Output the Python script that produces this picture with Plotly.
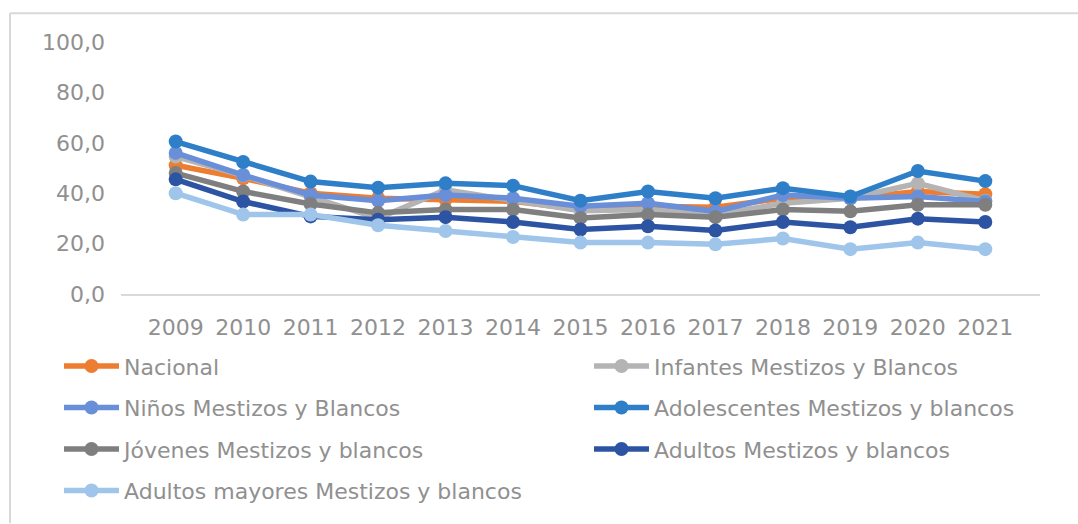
import plotly.graph_objects as go

years = ["2009", "2010", "2011", "2012", "2013", "2014", "2015", "2016", "2017", "2018", "2019", "2020", "2021"]

nacional = [51.1, 45.9, 40.0, 38.0, 37.4, 36.8, 33.5, 34.8, 34.4, 38.0, 38.0, 40.7, 39.6]
infantes = [54.5, 47.0, 38.5, 30.0, 41.3, 37.4, 33.0, 33.5, 31.5, 36.0, 38.0, 43.9, 37.0]
ninos = [56.0, 47.2, 39.3, 37.0, 39.3, 38.0, 34.8, 36.0, 32.8, 39.3, 38.0, 38.7, 36.7]
adolescentes = [60.5, 52.4, 44.6, 42.2, 43.9, 43.0, 37.0, 40.7, 38.0, 42.0, 38.7, 48.8, 44.8]
jovenes = [48.0, 40.7, 35.7, 32.2, 33.5, 33.5, 30.2, 31.5, 30.5, 33.5, 32.8, 35.4, 35.4]
adultos = [45.5, 36.7, 30.8, 29.5, 30.5, 28.6, 25.6, 26.9, 25.2, 28.6, 26.5, 29.9, 28.6]
mayores = [40.0, 31.5, 31.5, 27.3, 25.0, 22.6, 20.4, 20.4, 19.7, 22.0, 17.8, 20.4, 17.8]

series_names = [
    "Nacional",
    "Infantes Mestizos y Blancos",
    "Niños Mestizos y Blancos",
    "Adolescentes Mestizos y blancos",
    "Jóvenes Mestizos y blancos",
    "Adultos Mestizos y blancos",
    "Adultos mayores Mestizos y blancos",
]
series_values = [nacional, infantes, ninos, adolescentes, jovenes, adultos, mayores]
colors = ["#ED7D31", "#B4B4B4", "#6A8FD9", "#2E7FC8", "#7F7F7F", "#2D54A3", "#9FC5EA"]

y_ticks = [0, 20, 40, 60, 80, 100]
y_tick_labels = ["0,0", "20,0", "40,0", "60,0", "80,0", "100,0"]

W, H = 1078, 524
L, R, T, B = 121, 38, 42, 227
pw = W - L - R
ph = H - T - B

def px_x(p):
    return (p - L) / pw

def px_y(p):
    return (H - B - p) / ph

FONT = "DejaVu Sans"
TXT = "#909090"
FS = 22

fig = go.Figure()
legend_pos = [
    (62, 370), (592, 370),
    (62, 412), (592, 412),
    (62, 454), (592, 454),
    (62, 496),
]
for i, (name, vals, col) in enumerate(zip(series_names, series_values, colors)):
    lg = "legend" if i == 0 else f"legend{i+1}"
    fig.add_trace(go.Scatter(
        x=years, y=vals, name=name, mode="lines+markers",
        line=dict(color=col, width=5.5),
        marker=dict(color=col, size=14),
        legend=lg,
    ))

layout_legends = {}
for i, (lx, ly) in enumerate(legend_pos):
    key = "legend" if i == 0 else f"legend{i+1}"
    layout_legends[key] = dict(
        x=px_x(lx - 3), y=px_y(ly), xanchor="left", yanchor="middle",
        font=dict(family=FONT, size=FS, color=TXT),
        bgcolor="rgba(0,0,0,0)", itemwidth=55,
        borderwidth=0,
    )

fig.update_layout(
    width=W, height=H,
    margin=dict(l=L, r=R, t=T, b=B),
    paper_bgcolor="white", plot_bgcolor="white",
    font=dict(family=FONT, size=FS, color=TXT),
    showlegend=True,
    xaxis=dict(
        type="category", showgrid=False, zeroline=False,
        showline=True, linecolor="#D9D9D9", linewidth=1.5,
        ticks="", ticklabelstandoff=13,
        tickfont=dict(family=FONT, size=FS, color=TXT),
    ),
    yaxis=dict(
        range=[0, 100], tickvals=y_ticks, ticktext=y_tick_labels,
        showgrid=False, zeroline=False, showline=False,
        ticks="", ticklabelstandoff=15,
        tickfont=dict(family=FONT, size=FS, color=TXT),
    ),
    shapes=[
        dict(type="line", xref="paper", yref="paper",
             x0=px_x(10), x1=px_x(W + 5), y0=px_y(13), y1=px_y(13),
             line=dict(color="#D9D9D9", width=2)),
        dict(type="line", xref="paper", yref="paper",
             x0=px_x(10), x1=px_x(10), y0=px_y(13), y1=px_y(H + 5),
             line=dict(color="#D9D9D9", width=2)),
    ],
    **layout_legends,
)

fig.write_html(
    "out.html",
    config={"displayModeBar": False},
    post_script="document.body.style.margin='0';document.body.style.overflow='hidden';",
)
